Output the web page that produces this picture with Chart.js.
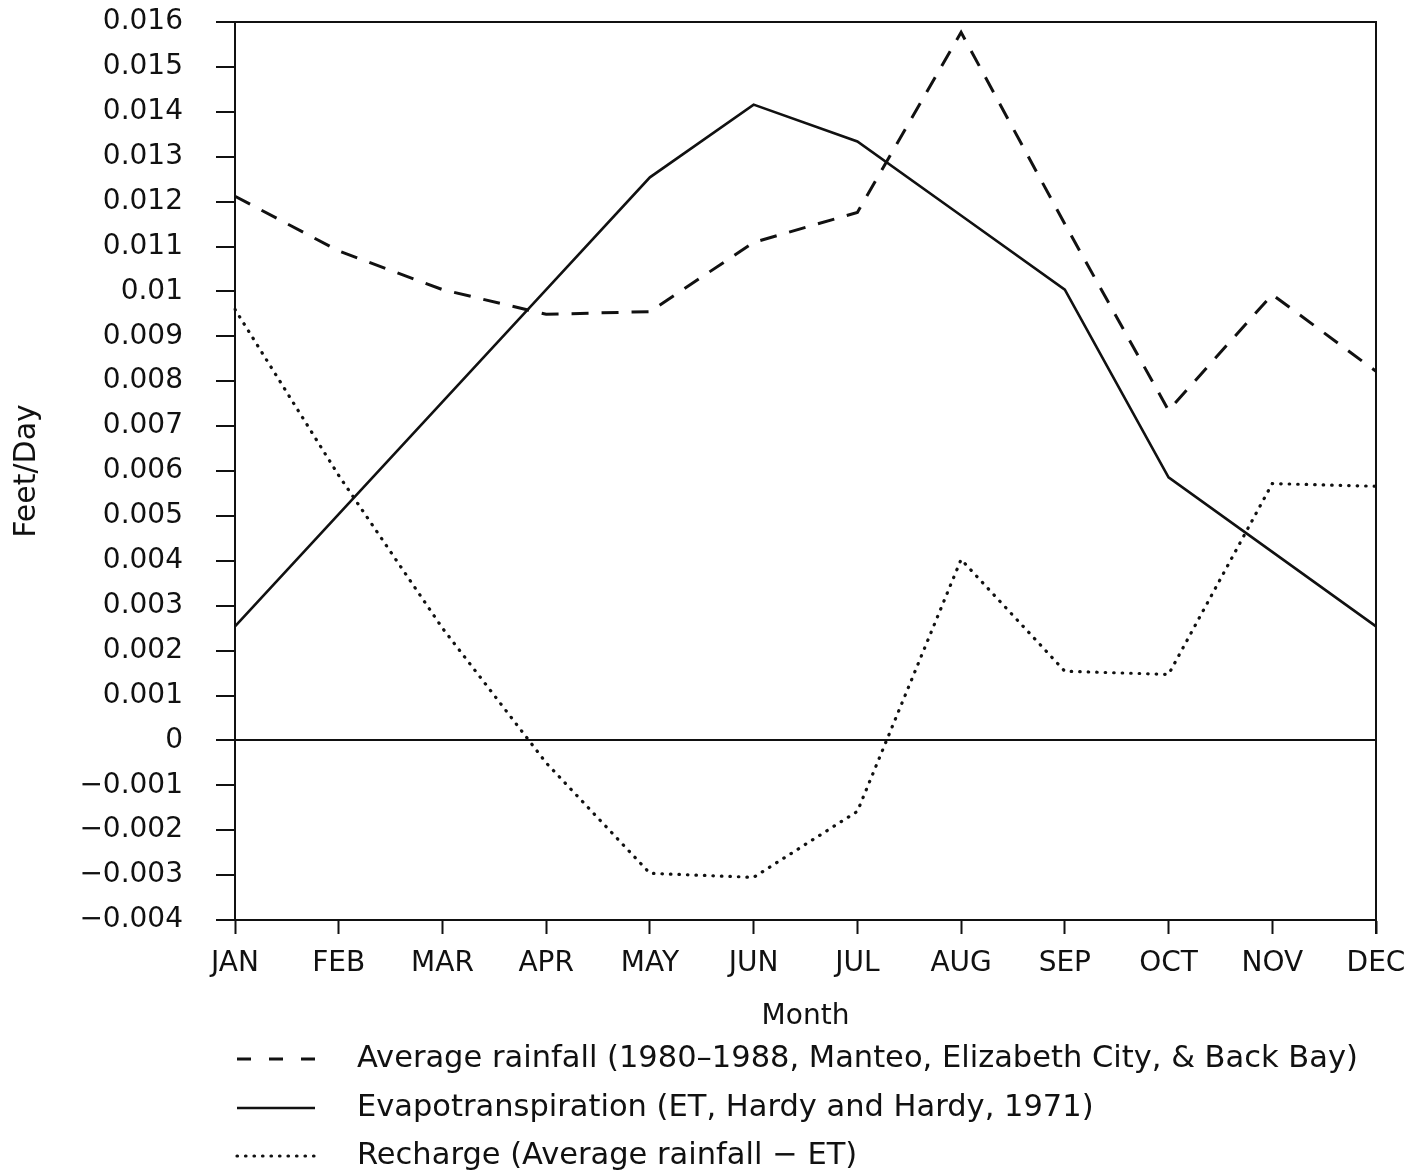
<!DOCTYPE html>
<html>
<head>
<meta charset="utf-8">
<title>Rainfall, ET and recharge</title>
<script src="https://cdn.jsdelivr.net/npm/chart.js@4.4.1/dist/chart.umd.min.js"></script>
<style>
  html, body { margin: 0; padding: 0; background: #fff; }
  #wrap { width: 1412px; height: 1174px; }
</style>
</head>
<body>
<div id="wrap"><canvas id="recharge" width="1412" height="1174"></canvas></div>
<script>
const months = ['JAN', 'FEB', 'MAR', 'APR', 'MAY', 'JUN', 'JUL', 'AUG', 'SEP', 'OCT', 'NOV', 'DEC'];

// feet/day, monthly averages
const rainfall = [0.01212, 0.0109, 0.01004, 0.00949, 0.00955, 0.01109, 0.01176, 0.01577, 0.0115, 0.00735, 0.00993, 0.00822];
const evapo = [0.00254, 0.00504, 0.00754, 0.01004, 0.01254, 0.01416, 0.01334, 0.01169, 0.01004, 0.00586, 0.0042, 0.00254];
const recharge = [0.0096, 0.0059, 0.0025, -0.0005, -0.00296, -0.00305, -0.00158, 0.00403, 0.00154, 0.00147, 0.00572, 0.00566];

const labels = [
  'Average rainfall (1980\u20131988, Manteo, Elizabeth City, & Back Bay)',
  'Evapotranspiration (ET, Hardy and Hardy, 1971)',
  'Recharge (Average rainfall \u2212 ET)'
];

const INK = '#111';
const FONT = '"DejaVu Sans", sans-serif';

// top and right edges of the frame
const framePlugin = {
  id: 'frame',
  afterDatasetsDraw(chart) {
    const { ctx, chartArea: a } = chart;
    ctx.save();
    ctx.strokeStyle = INK;
    ctx.lineWidth = 2;
    ctx.beginPath();
    ctx.moveTo(a.left, a.top);
    ctx.lineTo(a.right, a.top);
    ctx.lineTo(a.right, a.bottom + 14);
    ctx.stroke();
    ctx.restore();
  }
};

// stacked legend under the axis title
const legendPlugin = {
  id: 'stackedLegend',
  afterDraw(chart) {
    const { ctx, chartArea: a } = chart;
    const rows = [139, 188, 236];
    ctx.save();
    chart.data.datasets.forEach((ds, i) => {
      const y = a.bottom + rows[i];
      ctx.strokeStyle = INK;
      ctx.lineWidth = ds.borderWidth;
      ctx.lineCap = ds.borderCapStyle || 'butt';
      ctx.setLineDash(ds.legendDash || []);
      ctx.beginPath();
      ctx.moveTo(237, y);
      ctx.lineTo(315, y);
      ctx.stroke();
      ctx.setLineDash([]);
      ctx.fillStyle = INK;
      ctx.font = '30.5px ' + FONT;
      ctx.textBaseline = 'middle';
      ctx.textAlign = 'left';
      ctx.fillText(ds.label, 357, y);
    });
    ctx.restore();
  }
};

const fmt = v => Number(v.toFixed(3)).toString().replace('-', '\u2212');

new Chart(document.getElementById('recharge'), {
  type: 'line',
  data: {
    labels: months,
    datasets: [{
      label: labels[0],
      data: rainfall,
      borderColor: INK,
      borderWidth: 3,
      borderDash: [17, 13],
      legendDash: [14, 18],
      tension: 0,
      pointRadius: 0,
      fill: false
    }, {
      label: labels[1],
      data: evapo,
      borderColor: INK,
      borderWidth: 2.6,
      tension: 0,
      pointRadius: 0,
      fill: false
    }, {
      label: labels[2],
      data: recharge,
      borderColor: INK,
      borderWidth: 3.2,
      borderDash: [0.5, 8],
      legendDash: [0.5, 8],
      borderCapStyle: 'round',
      tension: 0,
      pointRadius: 0,
      fill: false
    }]
  },
  options: {
    responsive: false,
    devicePixelRatio: 1,
    animation: false,
    layout: { padding: { top: 22, right: 36, bottom: 134, left: 0 } },
    plugins: {
      legend: { display: false },
      tooltip: { enabled: false }
    },
    scales: {
      x: {
        offset: false,
        afterFit(scale) {
          scale.height = 120;
          scale.paddingLeft = 0;
          scale.paddingRight = 0;
        },
        grid: {
          drawOnChartArea: false,
          tickLength: 14,
          tickColor: INK,
          tickWidth: 2
        },
        border: { display: true, color: INK, width: 2 },
        ticks: {
          color: INK,
          padding: 13,
          maxRotation: 0,
          autoSkip: false,
          font: { family: FONT, size: 28 }
        },
        title: {
          display: true,
          text: 'Month',
          color: INK,
          padding: { top: 0, bottom: 6 },
          font: { family: FONT, size: 28 }
        }
      },
      y: {
        min: -0.004,
        max: 0.016,
        afterFit(scale) {
          scale.width = 235;
          scale.paddingTop = 0;
          scale.paddingBottom = 0;
        },
        grid: {
          // only the zero line is drawn across the plot
          color: ctx => (ctx.tick && Math.abs(ctx.tick.value) < 1e-9) ? INK : 'rgba(0,0,0,0)',
          lineWidth: 2,
          tickLength: 19,
          tickColor: INK,
          tickWidth: 2
        },
        border: { display: true, color: INK, width: 2 },
        ticks: {
          stepSize: 0.001,
          color: INK,
          padding: 33,
          font: { family: FONT, size: 28 },
          callback: v => fmt(v)
        },
        title: {
          display: true,
          text: 'Feet/Day',
          color: INK,
          padding: { top: 9, bottom: 0 },
          font: { family: FONT, size: 30 }
        }
      }
    }
  },
  plugins: [framePlugin, legendPlugin]
});
</script>
</body>
</html>
